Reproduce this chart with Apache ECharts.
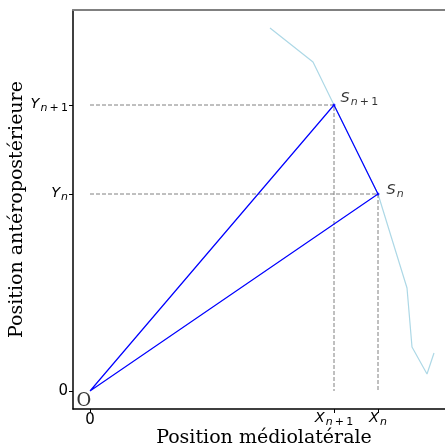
<!DOCTYPE html>
<html>
<head>
<meta charset="utf-8">
<script src="https://cdn.jsdelivr.net/npm/echarts@6/dist/echarts.min.js"></script>
<style>
  html, body { margin: 0; padding: 0; background: #fff; }
  #chart { width: 445px; height: 448px; }
</style>
</head>
<body>
<div id="chart"></div>
<script>
// points (units: arbitrary, origin at O)
const origin = [0, 0]
const sNext = [244, 286]   // S_{n+1}
const sCur = [288, 197]    // S_n
// light blue trajectory
const pathX = [180, 223, 244, 288, 317, 322, 337, 344]
const pathY = [363, 329, 286, 197, 103, 44, 17, 38]
// ticks
const xTickValues = [0, 244, 288]
const xTickLabels = ['{z|0}', '{m|X}{s|n}{t|\u2009+\u20091}', '{m|X}{s|n}']
const yTickValues = [0, 197, 286]
const yTickLabels = ['0', '{m|Y}{s|n}', '{m|Y}{s|n}{t|\u2009+\u20091}']

const richMath = {
  z: { fontFamily: 'DejaVu Sans', fontSize: 15, color: '#000', verticalAlign: 'top', lineHeight: 16, padding: [2, 0, 0, 0] },
  m: { fontFamily: 'DejaVu Sans', fontStyle: 'italic', fontSize: 14.5, color: '#000', verticalAlign: 'top', lineHeight: 16 },
  s: { fontFamily: 'DejaVu Sans', fontStyle: 'italic', fontSize: 11, color: '#000', verticalAlign: 'top', lineHeight: 13, padding: [6, 0, 0, 1] },
  t: { fontFamily: 'DejaVu Sans', fontSize: 11, color: '#000', verticalAlign: 'top', lineHeight: 13, padding: [6, 0, 0, 0] },
}

const chart = echarts.init(document.getElementById('chart'))

const tickFmt = (values, labels) => (v) => {
  const i = values.indexOf(v)
  return i >= 0 ? labels[i] : ''
}

const option = {
  animation: false,
  grid: { left: 73, top: 10, width: 382, height: 399, outerBoundsMode: 'none', containLabel: false },
  xAxis: [
    {
      type: 'value',
      min: -17,
      max: 365,
      name: 'Position médiolatérale',
      nameLocation: 'middle',
      nameGap: 20,
      nameMoveOverlap: false,
      nameTextStyle: { fontFamily: 'DejaVu Serif', fontSize: 19, color: '#000' },
      axisLine: { show: true, onZero: false, lineStyle: { color: '#000', width: 1.5 } },
      axisTick: { show: true, length: 4, customValues: xTickValues, lineStyle: { color: '#000' } },
      axisLabel: {
        customValues: xTickValues,
        formatter: tickFmt(xTickValues, xTickLabels),
        fontFamily: 'DejaVu Sans', fontSize: 14.5, color: '#000', margin: 2,
        rich: richMath,
      },
      splitLine: { show: false },
    },
    {
      type: 'value',
      position: 'top',
      min: -17,
      max: 365,
      axisLine: { show: true, onZero: false, lineStyle: { color: '#808080', width: 2 } },
      axisTick: { show: false },
      axisLabel: { show: false },
      splitLine: { show: false },
    },
  ],
  yAxis: {
    type: 'value',
    min: -18,
    max: 381,
    name: 'Position antéropostérieure',
    nameLocation: 'middle',
    nameGap: 46,
    nameMoveOverlap: false,
    nameTextStyle: { fontFamily: 'DejaVu Serif', fontSize: 19, color: '#000' },
    axisLine: { show: true, onZero: false, lineStyle: { color: '#000', width: 1.5 } },
    axisTick: { show: true, length: 4, customValues: yTickValues, lineStyle: { color: '#000' } },
    axisLabel: {
      customValues: yTickValues,
      formatter: tickFmt(yTickValues, yTickLabels),
      fontFamily: 'DejaVu Sans', fontSize: 15, color: '#000', margin: 5,
      rich: richMath,
    },
    splitLine: { show: false },
  },
  series: [
    {
      // trajectoire
      type: 'line',
      data: pathX.map((x, i) => [x, pathY[i]]),
      symbol: 'none',
      lineStyle: { color: '#add8e6', width: 1.2 },
      z: 1,
    },
    {
      // guides Y_{n+1} / X_{n+1}
      type: 'line',
      data: [[0, sNext[1]], sNext, [sNext[0], 0]],
      symbol: 'none',
      lineStyle: { color: '#808080', width: 1, type: [4, 2] },
      z: 2,
    },
    {
      // guides Y_n / X_n
      type: 'line',
      data: [[0, sCur[1]], sCur, [sCur[0], 0]],
      symbol: 'none',
      lineStyle: { color: '#808080', width: 1, type: [4, 2] },
      z: 2,
    },
    {
      // triangle O - S_{n+1} - S_n
      type: 'line',
      data: [origin, sNext, sCur, origin],
      symbol: 'none',
      lineStyle: { color: '#0000ff', width: 1.2 },
      z: 3,
    },
    {
      // labels
      type: 'scatter',
      symbol: 'circle',
      symbolSize: 3,
      itemStyle: { color: '#0000ff' },
      z: 4,
      data: [
        {
          value: sNext,
          label: { show: true, position: 'right', offset: [0, -6], formatter: '{m|S}{s|n}{t|\u2009+\u20091}', rich: richMath },
        },
        {
          value: sCur,
          label: { show: true, position: 'right', offset: [2, -3], formatter: '{m|S}{s|n}', rich: richMath },
        },
        {
          value: origin,
          symbolSize: 0,
          label: { show: true, position: 'inside', offset: [-6, 10], formatter: 'O', fontFamily: 'DejaVu Serif', fontSize: 18, color: '#000' },
        },
      ],
    },
  ],
}

chart.setOption(option)
</script>
</body>
</html>
